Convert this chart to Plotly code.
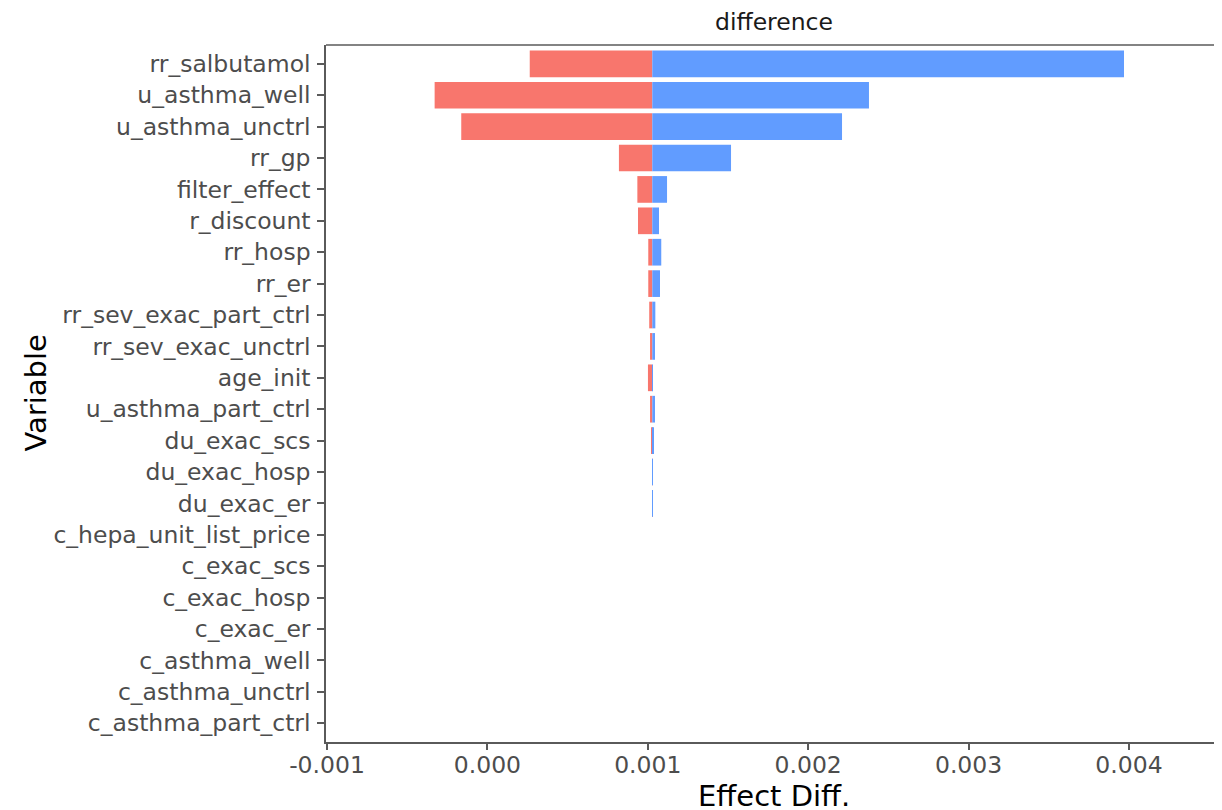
import plotly.graph_objects as go

variables = ["rr_salbutamol", "u_asthma_well", "u_asthma_unctrl", "rr_gp", "filter_effect",
             "r_discount", "rr_hosp", "rr_er", "rr_sev_exac_part_ctrl", "rr_sev_exac_unctrl",
             "age_init", "u_asthma_part_ctrl", "du_exac_scs", "du_exac_hosp", "du_exac_er",
             "c_hepa_unit_list_price", "c_exac_scs", "c_exac_hosp", "c_exac_er",
             "c_asthma_well", "c_asthma_unctrl", "c_asthma_part_ctrl"]
base_value = 0.001028
low_values = [0.000264, -0.000329, -0.000163, 0.000820, 0.000935,
              0.000939, 0.001003, 0.001003, 0.001009, 0.001014,
              0.001001, 0.001014, 0.001020, 0.001027, 0.001027,
              0.001028, 0.001028, 0.001028, 0.001028,
              0.001028, 0.001028, 0.001028]
high_values = [0.003969, 0.002379, 0.002211, 0.001519, 0.001120,
               0.001070, 0.001084, 0.001076, 0.001047, 0.001045,
               0.001029, 0.001045, 0.001034, 0.001029, 0.001029,
               0.001028, 0.001028, 0.001028, 0.001028,
               0.001028, 0.001028, 0.001028]
x_ticks = [-0.001, 0.0, 0.001, 0.002, 0.003, 0.004]
x_tick_labels = ["-0.001", "0.000", "0.001", "0.002", "0.003", "0.004"]

FONT = "DejaVu Sans"
fig = go.Figure()
fig.add_trace(go.Bar(
    y=variables, x=[v - base_value for v in low_values], base=[base_value] * len(variables),
    orientation="h", marker=dict(color="#F8766D", line=dict(width=0)), width=0.85,
    showlegend=False, hoverinfo="skip"))
fig.add_trace(go.Bar(
    y=variables, x=[v - base_value for v in high_values], base=[base_value] * len(variables),
    orientation="h", marker=dict(color="#619CFF", line=dict(width=0)), width=0.85,
    showlegend=False, hoverinfo="skip"))

n = len(variables)
AX = "#5a5a5a"
fig.update_layout(
    width=1214, height=802, barmode="overlay",
    plot_bgcolor="white", paper_bgcolor="white",
    margin=dict(l=318, r=0, t=37, b=68),
    font=dict(family=FONT, color="#4D4D4D"),
    xaxis=dict(range=[-0.00100625, 0.00458], tickvals=x_ticks, ticktext=x_tick_labels,
               showgrid=False, zeroline=False, showline=True, linecolor=AX, linewidth=1.5,
               ticks="outside", ticklen=6, tickcolor=AX, tickwidth=1.5,
               ticklabelstandoff=-5,
               tickfont=dict(family=FONT, size=23.5, color="#4D4D4D")),
    yaxis=dict(categoryorder="array", categoryarray=variables, range=[n - 0.4, -0.6],
               showgrid=False, zeroline=False, showline=True, linecolor=AX, linewidth=1.5,
               ticks="outside", ticklen=7, tickcolor=AX, tickwidth=1.5,
               ticklabelstandoff=2,
               tickfont=dict(family=FONT, size=23.5, color="#4D4D4D")),
    shapes=[dict(type="line", xref="paper", yref="paper", x0=0, x1=1, y0=1, y1=1,
                 line=dict(color=AX, width=1.5))],
    annotations=[
        dict(text="difference", xref="paper", yref="paper", x=0.5, y=1, yshift=23,
             showarrow=False, yanchor="middle", font=dict(family=FONT, size=23.5, color="#1A1A1A")),
        dict(text="Effect Diff.", xref="paper", yref="paper", x=0.5, y=0, yshift=-54,
             showarrow=False, yanchor="middle", font=dict(family=FONT, size=29, color="black")),
        dict(text="Variable", xref="paper", yref="paper", x=(35 - 326) / 896, y=0.5,
             showarrow=False, textangle=-90, xanchor="center", yanchor="middle",
             font=dict(family=FONT, size=29, color="black")),
    ],
)
fig.write_html("out.html")
